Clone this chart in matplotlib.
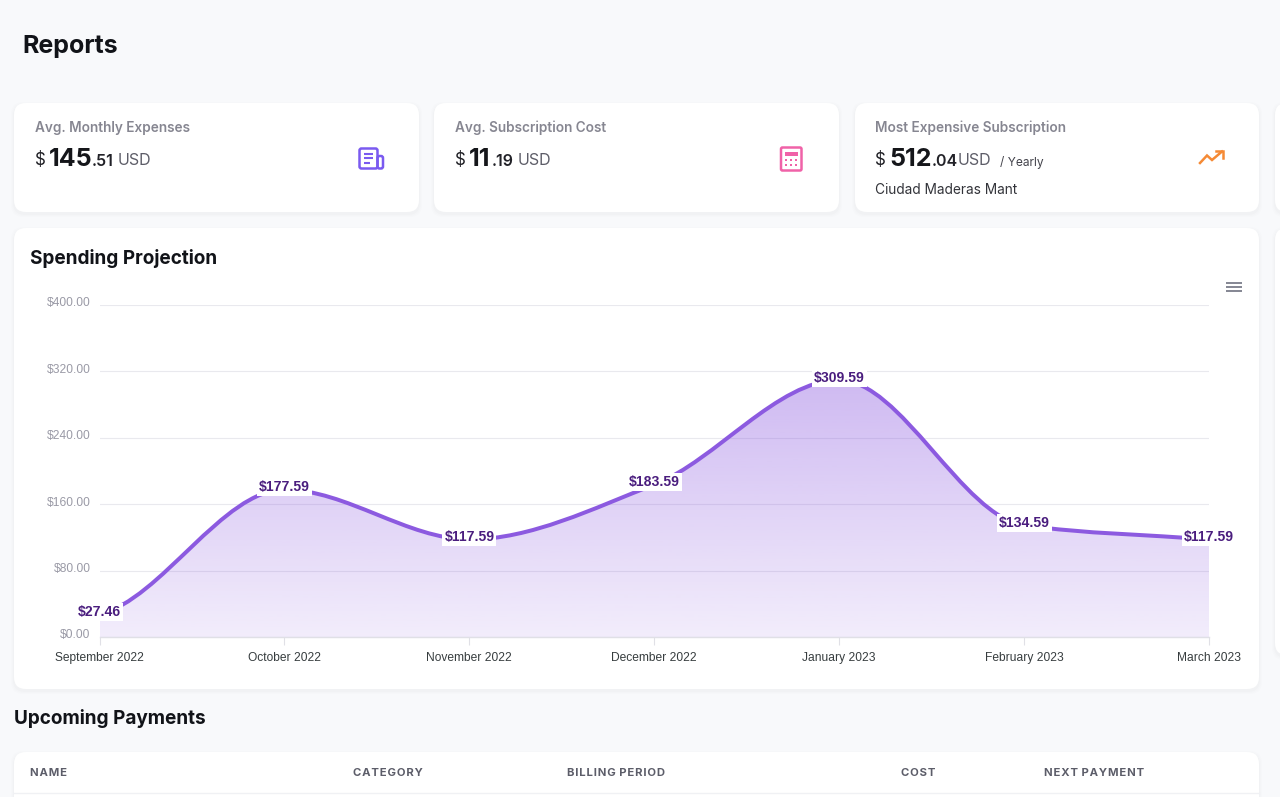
import matplotlib

matplotlib.use("Agg")
import matplotlib.pyplot as plt
import numpy as np
from matplotlib.patches import FancyBboxPatch, PathPatch, Rectangle
from matplotlib.path import Path
from matplotlib.transforms import ScaledTranslation

months = ["September 2022", "October 2022", "November 2022", "December 2022",
          "January 2023", "February 2023", "March 2023"]
spending = [27.46, 177.59, 117.59, 183.59, 309.59, 134.59, 117.59]
y_ticks = [0, 80, 160, 240, 320, 400]
table_headers = ["NAME", "CATEGORY", "BILLING PERIOD", "COST", "NEXT PAYMENT"]

UI = "Inter"
CHART = "Liberation Sans"
BG = "#f8f9fb"
LINE = "#8c5ae0"
LABEL = "#4a1d7e"
GRID = "#e9e9ee"


def px(size):
    return size * 0.72


def card(ax, x0, y0, x1, y1, r=12):
    # soft shadow first, then the white card
    for grow, alpha in [(3, 0.007), (2, 0.009), (1, 0.012)]:
        ax.add_patch(FancyBboxPatch((x0 - grow, y0 - grow + 2), x1 - x0 + 2 * grow, y1 - y0 + 2 * grow,
                                    boxstyle=f"round,pad=0,rounding_size={r}",
                                    fc="#30304a", ec="none", alpha=alpha))
    ax.add_patch(FancyBboxPatch((x0, y0), x1 - x0, y1 - y0, boxstyle=f"round,pad=0,rounding_size={r}",
                                fc="white", ec="none"))


def put(ax, x, y, s, size, color="#111318", weight="normal", ha="left", family=UI):
    ax.text(x, y + 1.5, s, fontsize=px(size), color=color, fontweight=weight, ha=ha, va="center", family=family)


def stat(ax, x, title, whole, cents, whole_w):
    put(ax, x, 126, title, 13.6, "#868691", "semibold")
    put(ax, x, 159, "$", 17, "#222228")
    put(ax, x + 14, 157.5, whole, 25, "#15161a", "bold")
    put(ax, x + 14 + whole_w, 159.5, cents, 16, "#222228", "semibold")
    put(ax, x + 14 + whole_w + 26, 159, "USD", 16, "#5d5d68")


def smooth_path(xs, ys):
    # monotone cubic tangents, as bezier control points
    xs = np.asarray(xs, float)
    ys = np.asarray(ys, float)
    d = np.diff(ys) / np.diff(xs)
    m = np.zeros(len(ys))
    for i in range(1, len(ys) - 1):
        if d[i - 1] * d[i] > 0:
            m[i] = 2 * d[i - 1] * d[i] / (d[i - 1] + d[i])
    m[0] = d[0] * 0.35
    m[-1] = d[-1]
    verts = [(xs[0], ys[0])]
    codes = [Path.MOVETO]
    for i in range(len(xs) - 1):
        h = (xs[i + 1] - xs[i]) / 3
        verts += [(xs[i] + h, ys[i] + m[i] * h), (xs[i + 1] - h, ys[i + 1] - m[i + 1] * h), (xs[i + 1], ys[i + 1])]
        codes += [Path.CURVE4] * 3
    return verts, codes


fig = plt.figure(figsize=(12.8, 7.97), dpi=100, facecolor=BG)

# --- page layout, in pixel coordinates ---
page = fig.add_axes([0, 0, 1, 1])
page.set_xlim(0, 1280)
page.set_ylim(797, 0)
page.axis("off")

put(page, 22, 45, "Reports", 25, "#111318", "bold")

card(page, 14, 103, 419, 212)
card(page, 434, 103, 839, 212)
card(page, 855, 103, 1259, 212)
card(page, 1275, 103, 1300, 212)
card(page, 14, 228, 1259, 689)
card(page, 1275, 228, 1300, 655)
card(page, 14, 752, 1259, 830)

stat(page, 35, "Avg. Monthly Expenses", "145", ".51", 43)
stat(page, 455, "Avg. Subscription Cost", "11", ".19", 23)
stat(page, 875, "Most Expensive Subscription", "512", ".04", 43)
put(page, 1000, 160.5, "/ Yearly", 12, "#44444c")
put(page, 875, 188, "Ciudad Maderas Mant", 13.7, "#33343a")

put(page, 30, 257, "Spending Projection", 19, "#111318", "bold")
put(page, 14, 717, "Upcoming Payments", 19, "#111318", "bold")

# newspaper icon
purple = "#7a5af0"
page.add_patch(FancyBboxPatch((359.5, 148.5), 18, 20, boxstyle="round,pad=0,rounding_size=2", fc="none", ec=purple, lw=1.8))
page.add_patch(FancyBboxPatch((377.5, 156), 5.5, 12.5, boxstyle="round,pad=0,rounding_size=2", fc="none", ec=purple, lw=1.8))
for y, x1 in [(153.5, 373), (158, 373), (162.5, 370)]:
    page.plot([364, x1], [y, y], color=purple, lw=1.5, solid_capstyle="butt")

# calculator icon
pink = "#f062a8"
page.add_patch(FancyBboxPatch((781, 147.5), 20.5, 23, boxstyle="round,pad=0,rounding_size=1.5", fc="none", ec=pink, lw=1.8))
page.add_patch(Rectangle((785, 151.5), 13, 4, fc=pink, ec="none"))
for gx in (786, 791, 796):
    for gy in (160, 165):
        page.add_patch(Rectangle((gx - 1, gy - 1), 2.2, 2.2, fc=pink, ec="none"))

# trending-up icon
orange = "#f58a35"
page.plot([1200, 1207, 1212, 1222], [163, 155.5, 160, 151.5], color=orange, lw=1.8, solid_joinstyle="miter")
page.plot([1215.5, 1223, 1223], [151, 151, 157.5], color=orange, lw=1.8, solid_joinstyle="miter")

# chart menu icon
for y in (283, 287, 291):
    page.plot([1226, 1241.5], [y, y], color="#7b7d8a", lw=1.3, solid_capstyle="butt")

# table header
for s, x in zip(table_headers, [30, 353, 567, 901, 1044]):
    put(page, x, 771, "\u200a".join(s).replace(" ", "\u2009"), 11.3, "#5c5d69", "bold")
page.plot([14, 1259], [792.5, 792.5], color="#f0f1f4", lw=1)

# --- chart ---
ax = fig.add_axes([99.5 / 1280, 1 - 637 / 797, 1109.5 / 1280, 332 / 797])
ax.patch.set_alpha(0)
xs = np.arange(len(spending))

verts, codes = smooth_path(xs, spending)
area = PathPatch(Path(verts + [(xs[-1], 0), (xs[0], 0), verts[0]],
                      codes + [Path.LINETO, Path.LINETO, Path.CLOSEPOLY]),
                 fc="none", ec="none", transform=ax.transData)
ax.add_patch(area)

# vertical gradient under the curve
rgba = np.zeros((256, 1, 4))
rgba[..., :3] = matplotlib.colors.to_rgb(LINE)
rgba[..., 3] = np.linspace(0.42, 0.11, 256)[:, None]
im = ax.imshow(rgba, extent=(xs[0], xs[-1], 0, max(spending)), origin="upper", aspect="auto", zorder=2)
im.set_clip_path(area)

ax.add_patch(PathPatch(Path(verts, codes), fc="none", ec=LINE, lw=px(4), zorder=3, capstyle="butt", clip_on=False))

ax.set_xlim(xs[0], xs[-1])
ax.set_ylim(0, 400)
ax.set_xticks(xs)
ax.set_xticklabels(months, fontsize=px(12), family=CHART, color="#373d3f")
ax.set_yticks(y_ticks)
ax.set_yticklabels([f"${v:.2f}" for v in y_ticks], fontsize=px(12), family=CHART, color="#9a9aa6")
ax.tick_params(axis="x", length=5.5, width=0.8, color="#e0e0e6", pad=5)
ax.tick_params(axis="y", length=0, pad=6.3)
shift = ScaledTranslation(0, 2.3 / 72, fig.dpi_scale_trans)
for lab in ax.get_yticklabels():
    lab.set_transform(lab.get_transform() + shift)
ax.grid(axis="y", color=GRID, lw=0.8, zorder=1)
ax.set_axisbelow(True)
for name in ("top", "right", "left"):
    ax.spines[name].set_visible(False)
ax.spines["bottom"].set_color("#e0e0e6")
ax.spines["bottom"].set_linewidth(1)

for x, v in zip(xs, spending):
    ax.annotate(f"${v:.2f}", (x, v), xytext=(0, 1.6), textcoords="offset points", ha="center", va="center",
                fontsize=px(14), fontweight="bold", family=CHART, color=LABEL, zorder=5, annotation_clip=False,
                bbox=dict(boxstyle="square,pad=0.15", fc="white", ec="none"))

fig.savefig("out.png", dpi=100, facecolor=BG)
